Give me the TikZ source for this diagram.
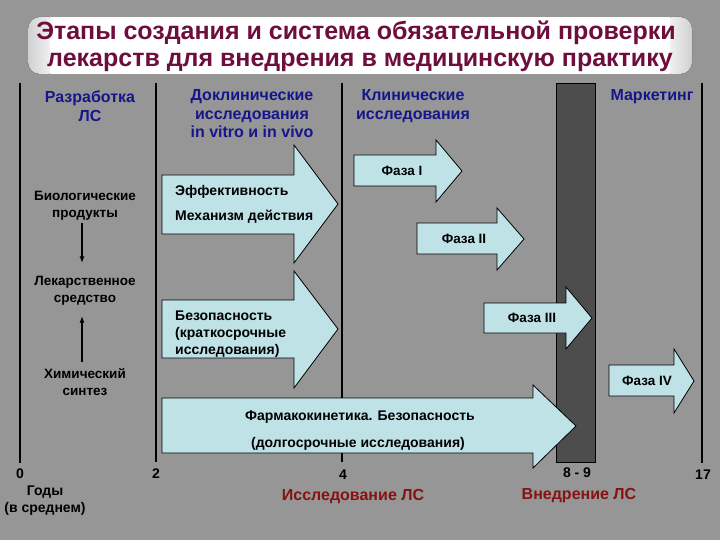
\documentclass[tikz,border=0pt]{standalone}
\usepackage{fontspec}
\setmainfont{Liberation Sans}
\usetikzlibrary{arrows.meta}
\definecolor{bg}{HTML}{969696}
\definecolor{arrowfill}{HTML}{BEE2E6}
\definecolor{darkbar}{HTML}{4D4D4D}
\definecolor{hdrblue}{HTML}{16168A}
\definecolor{titlered}{HTML}{6E0E3C}
\definecolor{labred}{HTML}{861212}
\colorlet{tbedge}{white!55!bg}
\tikzset{
  blockarrow/.style={fill=arrowfill, draw=black, line width=0.8pt, line join=miter},
  vline/.style={draw=black, line width=2pt},
  titlebox/.style={rounded corners=12pt},
  titletext/.style={text=titlered, font=\fontsize{25}{29}\selectfont\bfseries, inner sep=0pt},
  header/.style={text=hdrblue, font=\fontsize{16}{18.5}\selectfont\bfseries, align=center, inner sep=1pt},
  sidelabel/.style={text=black, font=\fontsize{13.5}{17}\selectfont\bfseries, align=center, inner sep=2pt},
  arrowtext/.style={text=black, font=\fontsize{14}{17}\selectfont\bfseries, inner sep=0pt},
  phasetext/.style={text=black, font=\fontsize{13.5}{17}\selectfont\bfseries, inner sep=0pt},
  ticklabel/.style={text=black, font=\fontsize{14}{17}\selectfont\bfseries, inner sep=0pt},
  redlabel/.style={text=labred, font=\fontsize{16}{18}\selectfont\bfseries, inner sep=0pt},
  conn/.style={draw=black, line width=1.6pt, -{Latex[length=7pt,width=5pt]}},
}
\begin{document}
\begin{tikzpicture}[x=1pt,y=-1pt]
\fill[bg] (0,0) rectangle (720,540);
\useasboundingbox (0,0) rectangle (720,540);

% title box: white centre, grey ends
\fill[titlebox, left color=tbedge, right color=white] (28,17) rectangle (60,74);
\fill[titlebox, right color=tbedge, left color=white] (660,17) rectangle (692,74);
\fill[white] (50,17) rectangle (670,74);
\node[titletext] (title1) at (356,33) {Этапы создания и система обязательной проверки};
\node[titletext] (title2) at (360,62) {лекарств для внедрения в медицинскую практику};

% time axis lines
\coordinate (v0t) at (20,83);  \coordinate (v0b) at (20,463);
\coordinate (v2t) at (156,83); \coordinate (v2b) at (156,462);
\coordinate (v4t) at (342,83); \coordinate (v4b) at (342,462);
\coordinate (v17t) at (702,83); \coordinate (v17b) at (702,463);
\draw[vline] (v0t) -- (v0b);
\draw[vline] (v2t) -- (v2b);
\draw[vline] (v4t) -- (v4b);
\draw[vline] (v17t) -- (v17b);

% approval bar
\filldraw[fill=darkbar, draw=black, line width=0.8pt] (556,83) rectangle (595,462);

% block arrows
\draw[blockarrow] (162,175) -- (294,175) -- (294,145) -- (338,204) -- (294,263) -- (294,234) -- (162,234) -- cycle;
\draw[blockarrow] (162,300) -- (294,300) -- (294,271) -- (338,329) -- (294,388) -- (294,358) -- (162,358) -- cycle;
\draw[blockarrow] (162,398) -- (533,398) -- (533,385) -- (576,426) -- (533,468) -- (533,453) -- (162,453) -- cycle;
\draw[blockarrow] (354,155) -- (436,155) -- (436,140) -- (462,171) -- (436,202) -- (436,186) -- (354,186) -- cycle;
\draw[blockarrow] (417,223) -- (497,223) -- (497,208) -- (524,239) -- (497,270) -- (497,254) -- (417,254) -- cycle;
\draw[blockarrow] (484,303) -- (566,303) -- (566,287) -- (592,318) -- (566,349) -- (566,333) -- (484,333) -- cycle;
\draw[blockarrow] (609,365) -- (674,365) -- (674,349) -- (694,381) -- (674,413) -- (674,396) -- (609,396) -- cycle;

% headers
\node[header] (dev) at (90,106) {Разработка\\ЛС};
\node[header] (preclin) at (252,114) {Доклинические\\исследования\\in vitro и in vivo};
\node[header] (clin) at (413,106) {Клинические\\исследования};
\node[header] (mkt) at (652,97) {Маркетинг};

% left column
\node[sidelabel] (bio) at (85,206) {Биологические\\продукты};
\node[sidelabel] (drug) at (85,291) {Лекарственное\\средство};
\node[sidelabel] (chem) at (85,382) {Химический\\синтез};
\draw[conn, shorten >=11pt] ([xshift=-3pt]bio.south) -- ([xshift=-3pt]drug.north);
\draw[conn, shorten <=4pt, shorten >=8pt] ([xshift=-3pt]chem.north) -- ([xshift=-3pt]drug.south);

% arrow texts
\node[arrowtext, anchor=west] (effA) at (175,192) {Эффективность};
\node[arrowtext, anchor=west] (effB) at (175,217) {Механизм действия};
\node[arrowtext, anchor=west, align=left] (safe) at (175,334) {Безопасность\\(краткосрочные\\исследования)};
\node[arrowtext] (pkA) at (360,417) {Фармакокинетика. Безопасность};
\node[arrowtext] (pkB) at (358,444) {(долгосрочные исследования)};
\node[phasetext] (ph1) at (402,171) {Фаза I};
\node[phasetext] (ph2) at (464,239) {Фаза II};
\node[phasetext] (ph3) at (532,318) {Фаза III};
\node[phasetext] (ph4) at (647,381) {Фаза IV};

% axis labels
\node[ticklabel] (t0) at (20,474) {0};
\node[ticklabel] (t2) at (156,474) {2};
\node[ticklabel] (t4) at (343,475) {4};
\node[ticklabel] (t89) at (577,473) {8 - 9};
\node[ticklabel] (t17) at (703,475) {17};
\node[ticklabel, align=center] (years) at (45,501) {Годы\\(в среднем)};
\node[redlabel] (research) at (353,497) {Исследование ЛС};
\node[redlabel] (intro) at (579,496) {Внедрение ЛС};
\end{tikzpicture}
\end{document}
